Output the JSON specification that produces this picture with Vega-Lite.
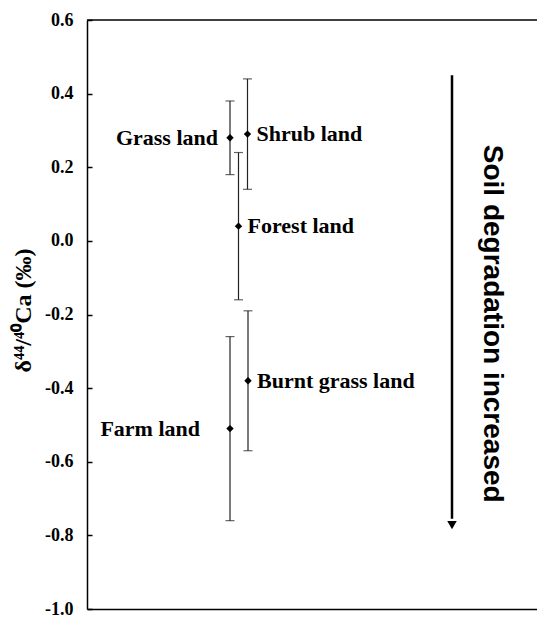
{
  "$schema": "https://vega.github.io/schema/vega-lite/v6.json",
  "autosize": "none",
  "padding": {"left": 87, "top": 20, "right": 0, "bottom": 8},
  "width": 450,
  "height": 589,
  "background": "white",
  "config": {
    "view": {"stroke": null},
    "axisY": {
      "labelFont": "Liberation Serif", "labelFontWeight": "bold", "labelFontSize": 18, "labelColor": "black",
      "labelPadding": 19, "tickSize": -5, "tickWidth": 1.5, "tickColor": "black",
      "domainColor": "black", "domainWidth": 1.5, "grid": false,
      "titleFont": "Liberation Serif", "titleFontWeight": "bold", "titleFontSize": 24, "titleColor": "black"
    }
  },
  "datasets": {
    "pts": [
      {"name": "Grass land", "x": 143, "y": 0.28, "lo": 0.18, "hi": 0.38, "side": "left"},
      {"name": "Shrub land", "x": 160.5, "y": 0.29, "lo": 0.14, "hi": 0.44, "side": "right"},
      {"name": "Forest land", "x": 151.5, "y": 0.04, "lo": -0.16, "hi": 0.24, "side": "right"},
      {"name": "Burnt grass land", "x": 161, "y": -0.38, "lo": -0.57, "hi": -0.19, "side": "right"},
      {"name": "Farm land", "x": 143, "y": -0.51, "lo": -0.76, "hi": -0.26, "side": "far-left"}
    ],
    "arrow": [
      {"label": "Soil degradation increased", "x": 365, "top": 0.45, "bottom": -0.755, "tip": -0.772, "tx": 405, "ty": -0.225}
    ]
  },
  "layer": [
    {
      "data": {"name": "pts"},
      "mark": {"type": "rule", "color": "#222", "strokeWidth": 1.2},
      "encoding": {
        "x": {"field": "x", "type": "quantitative", "scale": {"domain": [0, 450]},
              "axis": {"domain": true, "domainColor": "black", "domainWidth": 1.5, "ticks": false, "labels": false, "grid": false, "title": null}},
        "y": {"field": "lo", "type": "quantitative", "scale": {"domain": [-1.0, 0.6], "nice": false},
              "axis": {
                "values": [-1.0, -0.8, -0.6, -0.4, -0.2, 0.0, 0.2, 0.4, 0.6],
                "labelExpr": "replace(format(datum.value, '.1f'), '\u2212', '-')",
                "labelFont": "Liberation Serif", "labelFontWeight": "bold", "labelFontSize": 18, "labelColor": "black",
                "title": "δ⁴⁴/⁴⁰Ca (‰)",
                "titleX": -64, "titleY": 290, "titleBaseline": "middle", "titleAlign": "center", "titleAngle": -90
              }},
        "y2": {"field": "hi"}
      }
    },
    {
      "data": {"name": "pts"},
      "mark": {"type": "tick", "orient": "horizontal", "color": "#222", "size": 9, "thickness": 1.2},
      "encoding": {
        "x": {"field": "x", "type": "quantitative"},
        "y": {"field": "lo", "type": "quantitative"}
      }
    },
    {
      "data": {"name": "pts"},
      "mark": {"type": "tick", "orient": "horizontal", "color": "#222", "size": 9, "thickness": 1.2},
      "encoding": {
        "x": {"field": "x", "type": "quantitative"},
        "y": {"field": "hi", "type": "quantitative"}
      }
    },
    {
      "data": {"name": "pts"},
      "mark": {"type": "point", "shape": "diamond", "filled": true, "color": "black", "size": 55, "opacity": 1},
      "encoding": {
        "x": {"field": "x", "type": "quantitative"},
        "y": {"field": "y", "type": "quantitative"}
      }
    },
    {
      "data": {"name": "pts"},
      "transform": [{"filter": "datum.side == 'left'"}],
      "mark": {"type": "text", "align": "right", "baseline": "middle", "dx": -12, "font": "Liberation Serif", "fontWeight": "bold", "fontSize": 22, "color": "black"},
      "encoding": {
        "x": {"field": "x", "type": "quantitative"},
        "y": {"field": "y", "type": "quantitative"},
        "text": {"field": "name"}
      }
    },
    {
      "data": {"name": "pts"},
      "transform": [{"filter": "datum.side == 'far-left'"}],
      "mark": {"type": "text", "align": "right", "baseline": "middle", "dx": -30, "font": "Liberation Serif", "fontWeight": "bold", "fontSize": 22, "color": "black"},
      "encoding": {
        "x": {"field": "x", "type": "quantitative"},
        "y": {"field": "y", "type": "quantitative"},
        "text": {"field": "name"}
      }
    },
    {
      "data": {"name": "pts"},
      "transform": [{"filter": "datum.side == 'right'"}],
      "mark": {"type": "text", "align": "left", "baseline": "middle", "dx": 9, "font": "Liberation Serif", "fontWeight": "bold", "fontSize": 22, "color": "black"},
      "encoding": {
        "x": {"field": "x", "type": "quantitative"},
        "y": {"field": "y", "type": "quantitative"},
        "text": {"field": "name"}
      }
    },
    {
      "data": {"values": [{"v": 0.6}]},
      "mark": {"type": "rule", "color": "black", "strokeWidth": 1.5},
      "encoding": {"y": {"field": "v", "type": "quantitative"}}
    },
    {
      "data": {"name": "arrow"},
      "mark": {"type": "rule", "color": "black", "strokeWidth": 2.5},
      "encoding": {
        "x": {"field": "x", "type": "quantitative"},
        "y": {"field": "top", "type": "quantitative"},
        "y2": {"field": "bottom"}
      }
    },
    {
      "data": {"name": "arrow"},
      "mark": {"type": "point", "shape": "triangle-down", "filled": true, "color": "black", "size": 90, "opacity": 1},
      "encoding": {
        "x": {"field": "x", "type": "quantitative"},
        "y": {"field": "tip", "type": "quantitative"}
      }
    },
    {
      "data": {"name": "arrow"},
      "mark": {"type": "text", "angle": 90, "align": "center", "baseline": "middle", "font": "Liberation Sans", "fontWeight": "bold", "fontSize": 28, "color": "black"},
      "encoding": {
        "x": {"field": "tx", "type": "quantitative"},
        "y": {"field": "ty", "type": "quantitative"},
        "text": {"field": "label"}
      }
    }
  ]
}
